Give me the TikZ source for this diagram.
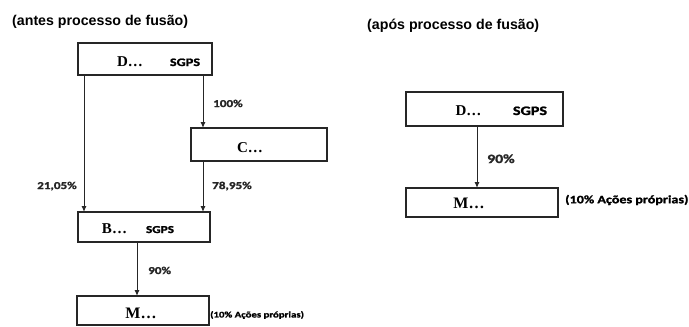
\documentclass[tikz,border=0pt]{standalone}
\usepackage{fontspec}
\setmainfont{Liberation Serif}
\newfontfamily\titlefont{Liberation Sans}
\newfontfamily\calb[FakeStretch=1.25,FakeBold=1.5,UprightFont={* Bold},BoldFont={* Bold}]{Carlito}
\usetikzlibrary{arrows.meta}
\begin{document}
\begin{tikzpicture}[x=1pt,y=-1pt,
  box/.style={draw=black!85, line width=1.4pt, inner sep=0pt, outer sep=0pt, fill=white},
  arr/.style={draw=black!85, line width=1pt, -{Latex[length=6pt,width=5pt]}},
  ttl/.style={font=\titlefont\bfseries\fontsize{14.2}{16}\selectfont, anchor=base west, inner sep=0pt},
  nm/.style={font=\bfseries\fontsize{15}{17}\selectfont, anchor=base, inner sep=0pt},
  sg/.style={font=\calb\fontsize{11}{13}\selectfont, anchor=base, inner sep=0pt},
  pct/.style={font=\calb\fontsize{10.5}{12}\selectfont, anchor=base west, inner sep=0pt, text=black!85},
  note/.style={font=\calb\fontsize{8.6}{10}\selectfont, anchor=west, inner sep=0pt}]
\useasboundingbox (0,0) rectangle (689,327);
\fill[white] (0,0) rectangle (689,327);

% titles
\node[ttl] (t1) at (12,25) {(antes processo de fusão)};
\node[ttl] (t2) at (367,29) {(após processo de fusão)};

% left boxes
\node[box, minimum width=134pt, minimum height=32pt] (D1) at (145,59) {};
\node[box, minimum width=136pt, minimum height=33pt] (C) at (259,144.5) {};
\node[box, minimum width=132pt, minimum height=30pt] (B1) at (144,227) {};
\node[box, minimum width=132pt, minimum height=29pt] (M1) at (143,310.5) {};

\node[nm] (D1n) at (130,66) {D…};
\node[sg, font=\calb\fontsize{11.4}{13}\selectfont] (D1s) at (185,66) {SGPS};
\node[nm] (Cn) at (250,152) {C…};
\node[nm] (B1n) at (114.5,233) {B…};
\node[sg, font=\calb\fontsize{10.6}{13}\selectfont] (B1s) at (160,233) {SGPS};
\node[nm, font=\bfseries\fontsize{16}{18}\selectfont] (M1n) at (141,318) {M…};
\node[note] (M1a) at (210,315) {(10\% Ações próprias)};

% left connectors
\coordinate (xa) at (84,0);
\coordinate (xb) at (203,0);
\coordinate (xc) at (137,0);
\draw[arr] (D1.south -| xa) -- (B1.north -| xa);
\draw[arr] (D1.south -| xb) -- (C.north -| xb);
\draw[arr] (C.south -| xb) -- (B1.north -| xb);
\draw[arr] (B1.south -| xc) -- (M1.north -| xc);

\node[pct] (p100) at (213,107) {100\%};
\node[pct] (p21) at (37,189) {21,05\%};
\node[pct] (p78) at (212,189) {78,95\%};
\node[pct] (p90a) at (148,274) {90\%};

% right boxes
\node[box, minimum width=157pt, minimum height=34pt] (D2) at (484.5,109) {};
\node[box, minimum width=152pt, minimum height=29pt] (M2) at (482,202.5) {};
\node[nm] (D2n) at (468.5,115) {D…};
\node[sg, font=\calb\fontsize{12.9}{15}\selectfont] (D2s) at (530,115) {SGPS};
\node[nm, font=\bfseries\fontsize{16}{18}\selectfont] (M2n) at (469,208) {M…};
\node[note, font=\calb\fontsize{11.3}{13}\selectfont] (M2a) at (565,200) {(10\% Ações próprias)};

\coordinate (xd) at (477,0);
\draw[arr] (D2.south -| xd) -- (M2.north -| xd);
\node[pct, font=\calb\fontsize{12.6}{14}\selectfont] (p90b) at (487,163) {90\%};
\end{tikzpicture}
\end{document}
